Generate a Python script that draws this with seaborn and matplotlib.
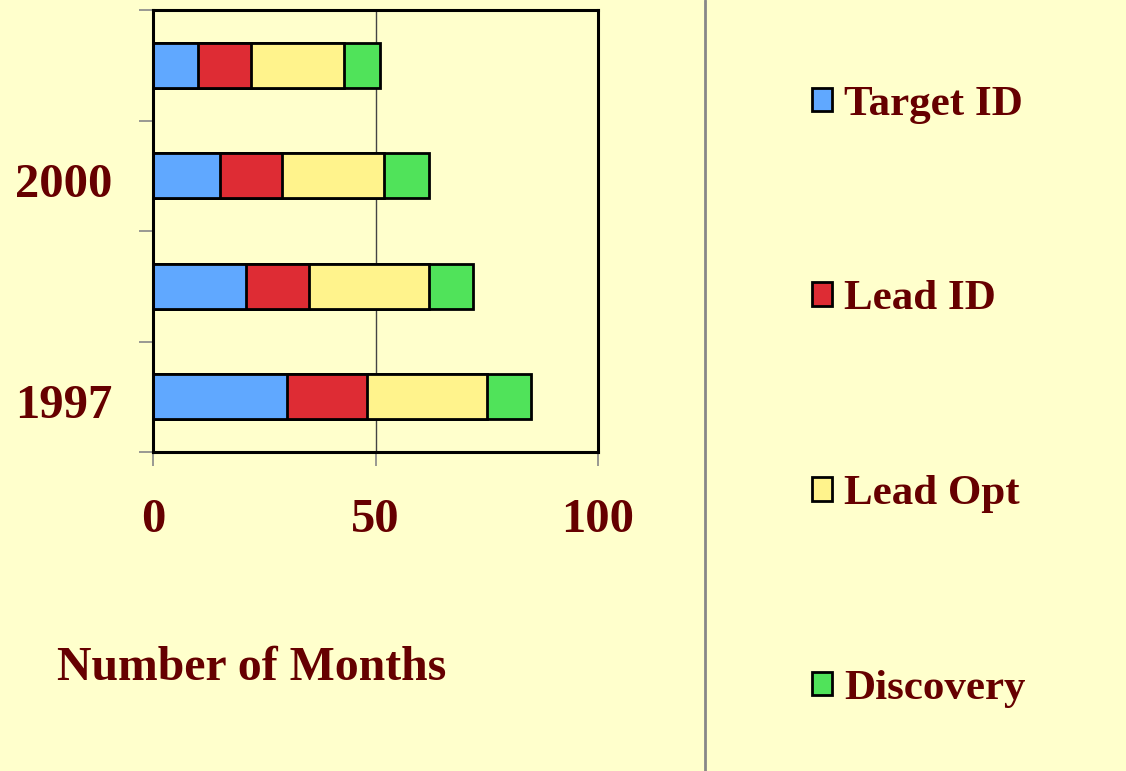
import pandas as pd
import numpy as np
import seaborn as sns
import matplotlib.pyplot as plt
import matplotlib.transforms as mtrans
from matplotlib.lines import Line2D

# === data (top bar first, as drawn) ===
years = ["2001", "2000", "1999", "1997"]
year_labels = ["", "2000", "", "1997"]
phases = ["Target ID", "Lead ID", "Lead Opt", "Discovery"]
target_id = [10, 15, 21, 30]
lead_id = [12, 14, 14, 18]
lead_opt = [21, 23, 27, 27]
discovery = [8, 10, 10, 10]
x_ticks = [0, 50, 100]

colors = ["#60A8FF", "#DE2C34", "#FFF38C", "#50E35A"]
bg = "#FFFFCC"
txt = "#660000"

sns.set_theme(style="white")
plt.rcParams["font.family"] = ["Liberation Serif", "DejaVu Serif"]
plt.rcParams["font.weight"] = "bold"

df = pd.DataFrame({"year": years, "Target ID": target_id, "Lead ID": lead_id,
                   "Lead Opt": lead_opt, "Discovery": discovery})
# cumulative ends for stacking
cum = df[phases].cumsum(axis=1)
cum["year"] = df["year"]

fig = plt.figure(figsize=(11.26, 7.71), dpi=100, facecolor=bg)
ax = fig.add_axes([153 / 1126, 1 - 452 / 771, 445 / 1126, 442 / 771])
ax.set_facecolor(bg)

# draw longest segment first so shorter ones sit on top
for phase, col in reversed(list(zip(phases, colors))):
    sns.barplot(data=cum, x=phase, y="year", order=years, orient="h",
                color=col, saturation=1, width=0.41, edgecolor="black",
                linewidth=2, ax=ax, label=phase)

ax.set_xlim(0, 100)
ax.set_ylim(3.5, -0.5)
ax.set_xticks(x_ticks)
ax.set_xticklabels([str(v) for v in x_ticks])
ax.set_yticks(range(len(years)))
ax.set_yticklabels(year_labels, va="center_baseline")
ax.set_yticks(np.arange(-0.5, len(years), 1), minor=True)
ax.tick_params(axis="y", which="major", length=0, pad=29, labelsize=35, labelcolor=txt)
ax.tick_params(axis="y", which="minor", left=True, length=10, width=1.2, color="#888888")
ax.tick_params(axis="x", which="major", bottom=True, length=10, width=1.2, color="#888888",
               pad=23, labelsize=35, labelcolor=txt)
# nudge year labels down a little
shift = mtrans.ScaledTranslation(0, -4 / 100, fig.dpi_scale_trans)
for lab in ax.get_yticklabels():
    lab.set_transform(lab.get_transform() + shift)
ax.axvline(50, color="#444444", lw=1, zorder=0)
ax.set_xlabel("")
ax.set_ylabel("")
for s in ax.spines.values():
    s.set_visible(True)
    s.set_color("black")
    s.set_linewidth(2.2)
if ax.get_legend():
    ax.get_legend().remove()

fig.text(57 / 1126, 1 - 680 / 771, "Number of Months", fontsize=34.4, color=txt,
         fontweight="bold", va="baseline", ha="left")

# separator line
fig.add_artist(Line2D([705 / 1126, 705 / 1126], [0, 1], color="#888888", lw=2,
                      transform=fig.transFigure))

handles, labels = ax.get_legend_handles_labels()
order = [labels.index(p) for p in phases]
leg = fig.legend([handles[i] for i in order], phases, loc="upper left",
                 bbox_to_anchor=(773 / 1126, 1 - 47 / 771), frameon=False,
                 fontsize=31, labelcolor=txt, handlelength=0.46, handleheight=0.46,
                 handletextpad=0.3, labelspacing=3.64)

fig.savefig("out.png", dpi=100, facecolor=bg)
